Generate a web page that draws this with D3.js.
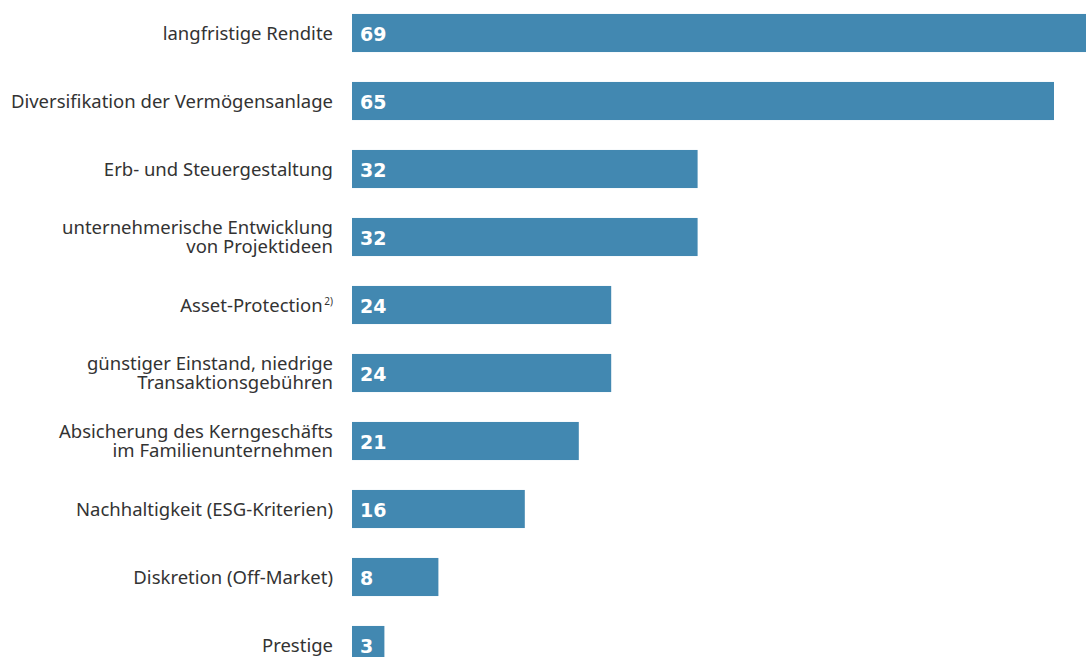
<!DOCTYPE html>
<html>
<head>
    <meta charset="UTF-8">
    <title>Motive</title>
    <script src="https://d3js.org/d3.v7.min.js"></script>
    <style>
        body { margin: 0; background: #fff; }
        svg { display: block; }
        .label { font-family: "Noto Sans", sans-serif; font-size: 18.5px; fill: #333; }
        .value { font-family: "DejaVu Sans", sans-serif; font-size: 19px; font-weight: bold; fill: #fff; }
    </style>
</head>
<body>
<svg width="1086" height="657"></svg>
<script>
    var width = 1086,
        height = 657

    // categories (line breaks as in the original)
    var categories = [
        ["langfristige Rendite"],
        ["Diversifikation der Vermögensanlage"],
        ["Erb- und Steuergestaltung"],
        ["unternehmerische Entwicklung", "von Projektideen"],
        ["Asset-Protection"],
        ["günstiger Einstand, niedrige", "Transaktionsgebühren"],
        ["Absicherung des Kerngeschäfts", "im Familienunternehmen"],
        ["Nachhaltigkeit (ESG-Kriterien)"],
        ["Diskretion (Off-Market)"],
        ["Prestige"]
    ]
    var footnotes = ["", "", "", "", "2)", "", "", "", "", ""]
    var values = [69, 65, 32, 32, 24, 24, 21, 16, 8, 3]

    var data = values.map(function(v, i) {
        return {id: i, lines: categories[i], note: footnotes[i], value: v}
    })

    var svg = d3.select("svg")

    var y = d3.scaleBand()
        .domain(data.map(function(d) { return d.id }))
        .range([-1, 679])
        .paddingInner(0.44)
        .paddingOuter(0.22)

    var x = d3.scaleLinear()
        .domain([0, 65])
        .range([352, 1054])

    svg.selectAll("rect.bar")
        .data(data)
        .enter()
        .append("rect")
        .attr("class", "bar")
        .attr("x", x(0))
        .attr("y", function(d) { return y(d.id) })
        .attr("width", function(d) { return x(d.value) - x(0) })
        .attr("height", y.bandwidth())
        .attr("fill", "#4288b1")

    svg.selectAll("text.value")
        .data(data)
        .enter()
        .append("text")
        .attr("class", "value")
        .attr("x", x(0) + 8)
        .attr("y", function(d) { return y(d.id) + y.bandwidth() / 2 + 7.5 })
        .text(function(d) { return d.value })

    var lineH = 19

    var labels = svg.selectAll("text.label")
        .data(data)
        .enter()
        .append("text")
        .attr("class", "label")
        .attr("text-anchor", "end")

    labels.each(function(d) {
        var t = d3.select(this)
        var mid = y(d.id) + y.bandwidth() / 2
        var first = mid - (d.lines.length - 1) * lineH / 2 + 6.5
        d.lines.forEach(function(line, k) {
            var ts = t.append("tspan")
                .attr("x", 333)
                .attr("y", first + k * lineH)
                .text(line)
            if (k == d.lines.length - 1 && d.note) {
                ts.append("tspan")
                    .attr("font-size", "10px")
                    .attr("dy", -7)
                    .text("\u2009" + d.note)
            }
        })
    })
</script>
</body>
</html>
